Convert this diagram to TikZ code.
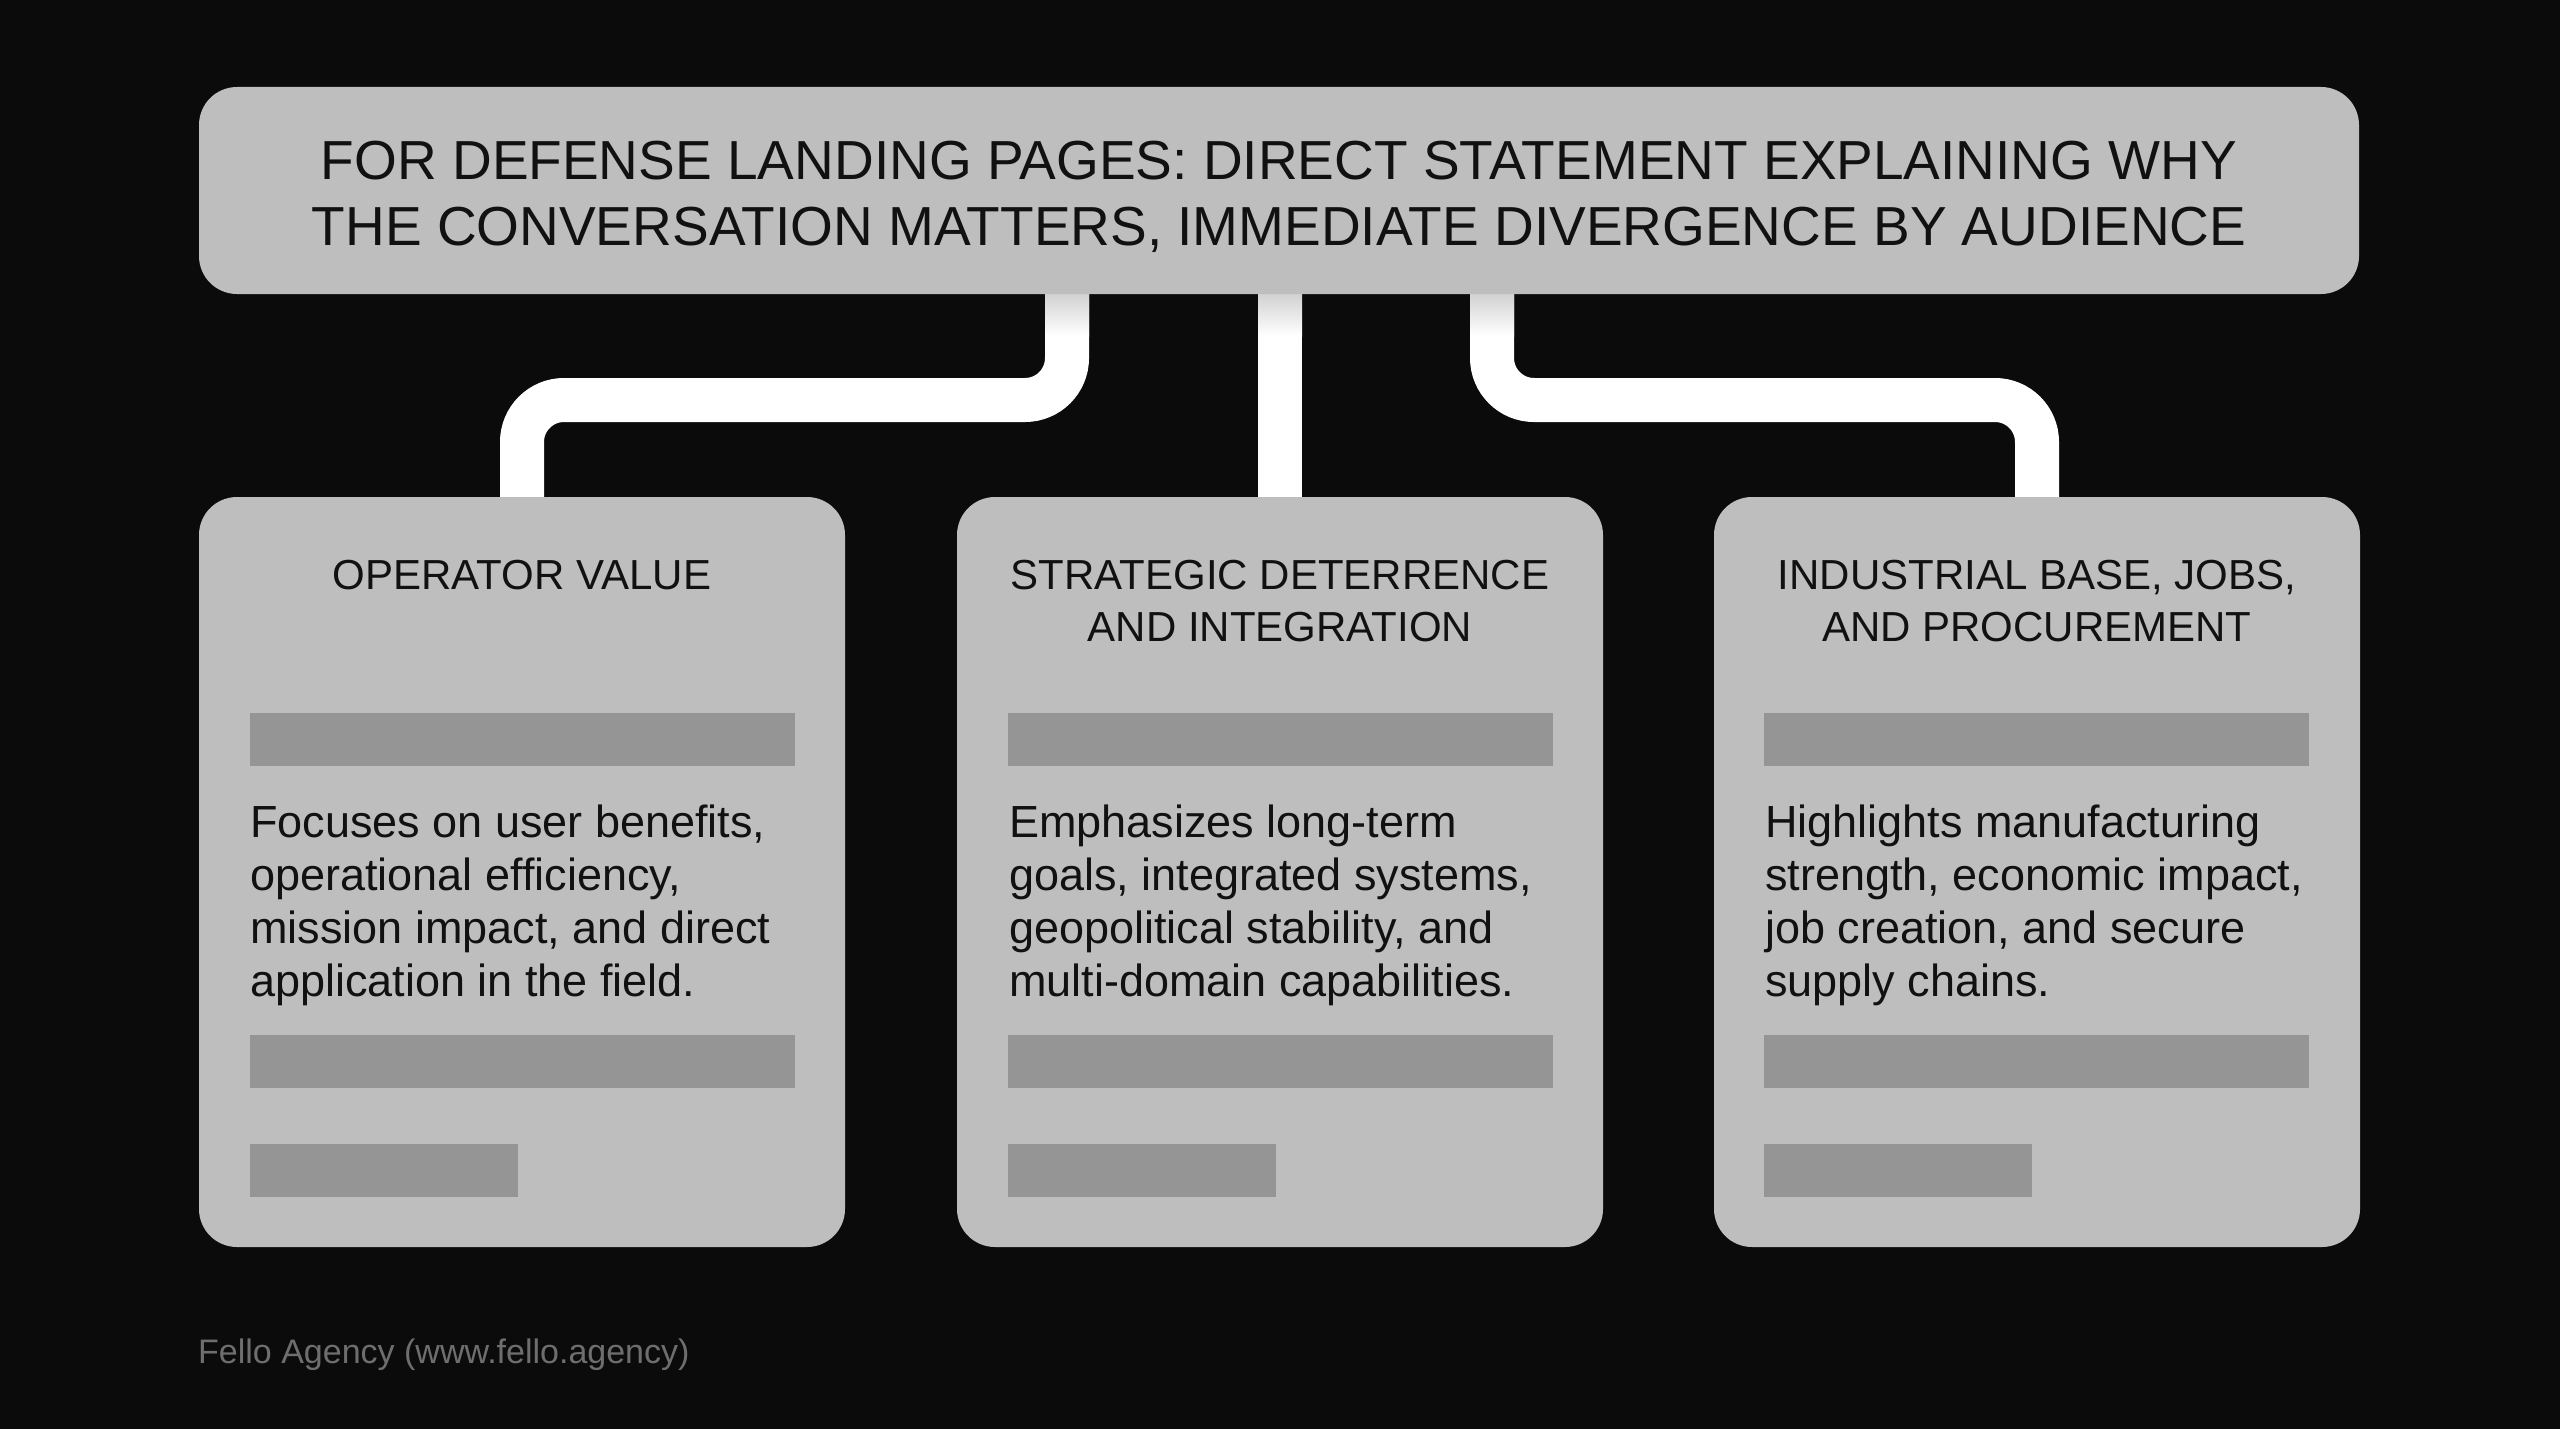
\documentclass[tikz,border=0pt]{standalone}
\usepackage{fontspec}
\setmainfont{Liberation Sans}
\pgfdeclarelayer{back}
\pgfdeclarelayer{bg}
\pgfsetlayers{back,bg,main}
\definecolor{bgc}{HTML}{0B0B0B}
\definecolor{boxc}{HTML}{BEBEBE}
\definecolor{barc}{HTML}{959595}
\definecolor{footc}{HTML}{6E6E6E}
\definecolor{ink}{HTML}{111111}
\definecolor{shadec}{HTML}{D2D2D2}
\begin{document}
\begin{tikzpicture}[x=1pt,y=-1pt,
  panel/.style={fill=boxc, draw=none, rounded corners=38pt, inner sep=0pt},
  cardpanel/.style={panel, minimum width=646pt, minimum height=750pt},
  cardtitle/.style={anchor=north, inner sep=0pt, align=center, text=ink, font=\fontsize{42}{52}\selectfont},
  cardbody/.style={anchor=north west, inner sep=0pt, align=left, text=ink, font=\fontsize{45}{53}\selectfont},
  bar/.style={fill=barc, draw=none, inner sep=0pt, anchor=north west, minimum height=53pt},
  longbar/.style={bar, minimum width=545pt},
  shortbar/.style={bar, minimum width=268pt},
  conn/.style={draw=white, line width=44pt, rounded corners=42pt},
]
\begin{pgfonlayer}{back}
  \fill[bgc] (0,0) rectangle (2560,1429);
\end{pgfonlayer}
\useasboundingbox (0,0) rectangle (2560,1429);

% header
\node[panel, minimum width=2160pt, minimum height=207pt] (top) at (1279,190.5) {};
\node[inner sep=0pt, align=center, text=ink, font=\fontsize{55}{66}\selectfont] (toptext) at (1279,197)
  {FOR DEFENSE LANDING PAGES: DIRECT STATEMENT EXPLAINING WHY\\THE CONVERSATION MATTERS, IMMEDIATE DIVERGENCE BY AUDIENCE};

% cards
\node[cardpanel] (c1) at (522,872) {};
\node[cardpanel] (c2) at (1280,872) {};
\node[cardpanel] (c3) at (2037,872) {};

\node[cardtitle] (t1) at (522,560) {OPERATOR VALUE};
\node[cardtitle] (t2) at (1280,560) {STRATEGIC DETERRENCE\\AND INTEGRATION};
\node[cardtitle] (t3) at (2037,560) {INDUSTRIAL BASE, JOBS,\\AND PROCUREMENT};

\node[longbar] (a1) at (250,713) {};
\node[longbar] (a2) at (1008,713) {};
\node[longbar] (a3) at (1764,713) {};

\node[cardbody] (d1) at (250,805) {Focuses on user benefits,\\operational efficiency,\\mission impact, and direct\\application in the field.};
\node[cardbody] (d2) at (1009,805) {Emphasizes long-term\\goals, integrated systems,\\geopolitical stability, and\\multi-domain capabilities.};
\node[cardbody] (d3) at (1765,805) {Highlights manufacturing\\strength, economic impact,\\job creation, and secure\\supply chains.};

\node[longbar] (e1) at (250,1035) {};
\node[longbar] (e2) at (1008,1035) {};
\node[longbar] (e3) at (1764,1035) {};

\node[shortbar] (f1) at (250,1144) {};
\node[shortbar] (f2) at (1008,1144) {};
\node[shortbar] (f3) at (1764,1144) {};

% footer
\node[anchor=base west, inner sep=0pt, text=footc, font=\fontsize{34}{40}\selectfont] (foot) at (198,1363) {Fello Agency (www.fello.agency)};

% connectors
\coordinate (xl) at (1067,0);
\coordinate (xr) at (1492,0);
\coordinate (hy) at (0,400);
\begin{pgfonlayer}{bg}
  \draw[conn] (xl |- top.center) -- (xl |- hy) -- (c1.center |- hy) -- (c1.center);
  \draw[conn] (c2.center |- top.center) -- (c2.center);
  \draw[conn] (xr |- top.center) -- (xr |- hy) -- (c3.center |- hy) -- (c3.center);
  \shade[top color=shadec, bottom color=white] (1045,294) rectangle (1089,336);
  \shade[top color=shadec, bottom color=white] (1258,294) rectangle (1302,336);
  \shade[top color=shadec, bottom color=white] (1470,294) rectangle (1514,336);
\end{pgfonlayer}
\end{tikzpicture}
\end{document}
